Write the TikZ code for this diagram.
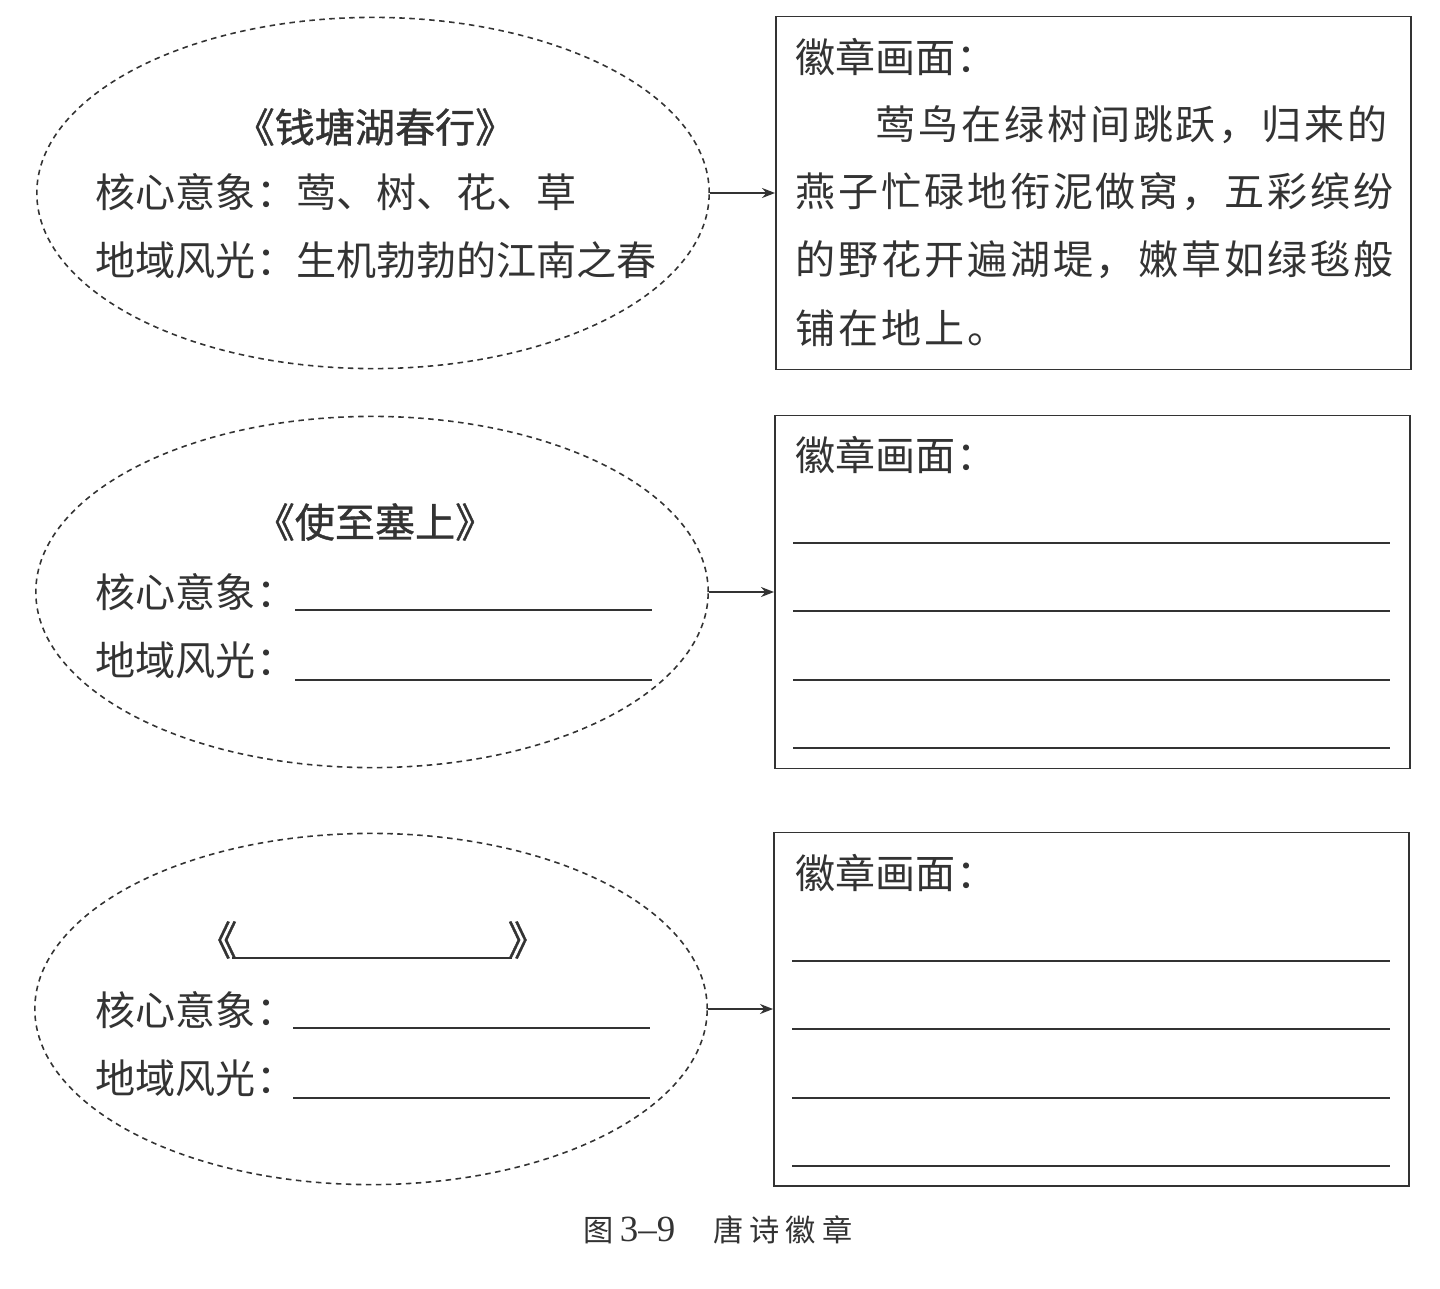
\documentclass[tikz,border=0pt]{standalone}
\usepackage{fontspec}
\setmainfont{Noto Sans CJK SC}
\newfontfamily\numfont{Liberation Serif}
\newfontfamily\widefont[LetterSpace=7]{Noto Sans CJK SC}
\newfontfamily\titlefont[FakeBold=1]{Noto Sans CJK SC}
\newfontfamily\capfont[LetterSpace=20]{Noto Sans CJK SC}
\usetikzlibrary{shapes.geometric,arrows.meta,positioning}
\definecolor{ink}{HTML}{333333}

\begin{document}
\begin{tikzpicture}[
    x=0.01cm,y=-0.01cm,
    node distance=0.65cm,
    poem/.style={ellipse,draw=ink,dash pattern=on 0.55mm off 0.45mm,line width=0.45pt,minimum width=6.72cm,minimum height=3.51cm},
    badge/.style={draw=ink,line width=0.5pt,minimum width=6.35cm,minimum height=3.53cm},
    txt/.style={inner sep=0pt,anchor=west,text=ink,font=\fontsize{11.4pt}{13pt}\selectfont},
    title/.style={inner sep=0pt,text=ink,font=\fontsize{11.4pt}{13pt}\titlefont},
    arrow/.style={-{Stealth[length=1.3mm,width=1mm]},line width=0.5pt,draw=ink},
    blank/.style={line width=0.5pt,draw=ink}
  ]
    \useasboundingbox (0,0) rectangle (1440,1288);

    % poems
    \node[poem] (e1) at (373,193) {};
    \node[poem] (e2) at (372,592) {};
    \node[poem] (e3) at (371,1009) {};

    % badges
    \node[badge,right=of e1] (b1) {};
    \node[badge,right=of e2] (b2) {};
    \node[badge,right=of e3] (b3) {};

    \draw[arrow] (e1.east) -- (e1.east -| b1.west);
    \draw[arrow] (e2.east) -- (e2.east -| b2.west);
    \draw[arrow] (e3.east) -- (e3.east -| b3.west);

    % first poem
    \node[title] (t1) at (375,127) {《钱塘湖春行》};
    \node[txt] (k1) at (95,192) {核心意象：莺、树、花、草};
    \node[txt] (d1) at (95,260) {地域风光：生机勃勃的江南之春};

    % second poem
    \node[title] (t2) at (375,522) {《使至塞上》};
    \node[txt] (k2) at (95,592) {核心意象：};
    \node[txt] (d2) at (95,660) {地域风光：};
    \draw[blank] (295,610) -- (652,610);
    \draw[blank] (295,680) -- (652,680);

    % third poem
    \node[title,anchor=east] (t3a) at (238,940) {《};
    \node[title,anchor=west] (t3b) at (507,940) {》};
    \draw[blank] (232,958) -- (512,958);
    \node[txt] (k3) at (95,1010) {核心意象：};
    \node[txt] (d3) at (95,1078) {地域风光：};
    \draw[blank] (293,1028) -- (650,1028);
    \draw[blank] (293,1098) -- (650,1098);

    % badge texts
    \node[txt] (h1) at (795,57) {徽章画面：};
    \node[txt] (p1) at (875,125) {\widefont 莺鸟在绿树间跳跃，归来的};
    \node[txt] (p2) at (795,192) {\widefont 燕子忙碌地衔泥做窝，五彩缤纷};
    \node[txt] (p3) at (795,260) {\widefont 的野花开遍湖堤，嫩草如绿毯般};
    \node[txt] (p4) at (795,328) {\widefont 铺在地上。};

    \node[txt] (h2) at (795,455) {徽章画面：};
    \foreach \y in {128,196,265,333}
      \draw[blank] (793,{415+\y}) -- (1390,{415+\y});

    \node[txt] (h3) at (795,873) {徽章画面：};
    \foreach \y in {128,196,265,333}
      \draw[blank] (792,{833+\y}) -- (1390,{833+\y});

    % caption
    \node[txt,font=\fontsize{8.6pt}{10pt}\selectfont] (cap) at (583,1230)
      {{\capfont 图}\hspace{1.7pt}{\fontsize{10.5pt}{12pt}\numfont 3–9}\hspace{10.8pt}{\capfont 唐诗徽章}};
  \end{tikzpicture}
\end{document}
